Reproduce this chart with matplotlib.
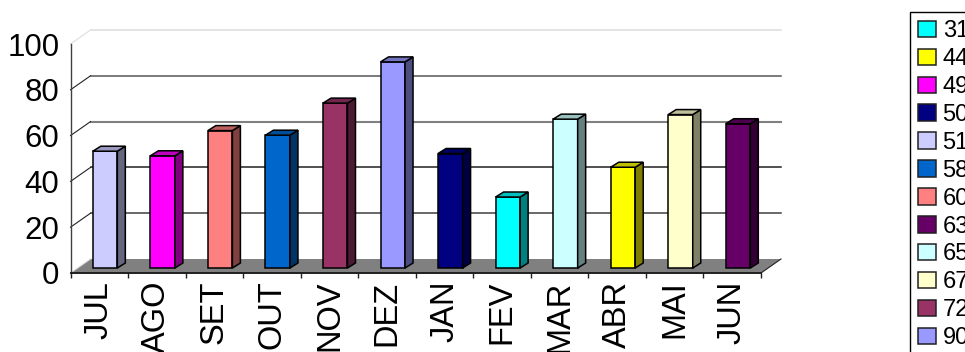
import matplotlib
matplotlib.use('Agg')
import matplotlib.pyplot as plt
from matplotlib.patches import Patch, Polygon
from matplotlib.transforms import Affine2D
from matplotlib.colors import to_rgb

plt.rcParams['font.family'] = ['Liberation Sans', 'DejaVu Sans']

months = ['JUL', 'AGO', 'SET', 'OUT', 'NOV', 'DEZ', 'JAN', 'FEV', 'MAR', 'ABR', 'MAI', 'JUN']
values = [51, 49, 60, 58, 72, 90, 50, 31, 65, 44, 67, 63]
colors = ['#CCCCFF', '#FF00FF', '#FF8080', '#0066CC', '#993366', '#9999FF',
          '#000080', '#00FFFF', '#CCFFFF', '#FFFF00', '#FFFFCC', '#660066']
y_ticks = [0, 20, 40, 60, 80, 100]
grid_colors = {20: '#404040', 40: '#202020', 60: '#808080', 80: '#555555', 100: '#dddddd'}


def shade(color, k):
    return tuple(c * k for c in to_rgb(color))


W, H = 965, 352
fig = plt.figure(figsize=(W / 100, H / 100), dpi=100)
ax = fig.add_axes([70.5 / W, (H - 273) / H, (761 - 70.5) / W, (273 - 44) / H])
ax.set_xlim(0, 12)
ax.set_ylim(0, 100)

# pseudo 3d: everything is the front plane shifted by some pixels
back = ax.transData + Affine2D().translate(20, 14)
front = ax.transData + Affine2D().translate(5.8, 5)
px_x = 12 / (761 - 70.5)
px_y = 100 / (273 - 44)
depth_x = 8 * px_x
depth_y = 5 * px_y
bar_w = 24.5 * px_x

# floor
wall_dx = 20 * px_x
wall_dy = 14 * px_y
ax.add_patch(Polygon([(0, 0), (12, 0), (12 + wall_dx, wall_dy), (wall_dx, wall_dy)],
                     closed=True, fc='#808080', ec='none', clip_on=False, zorder=1))

# back wall lines and the diagonals on the left wall
for v in y_ticks[1:]:
    ax.plot([0, 12], [v, v], transform=back, color=grid_colors[v],
            lw=1.5 if v == 60 else 1.1, clip_on=False, zorder=1)
    ax.plot([0, wall_dx], [v, v + wall_dy], color=grid_colors[v] if v == 100 else '#222222',
            lw=0.8, clip_on=False, zorder=1)
ax.plot([12, 12 + wall_dx], [0, wall_dy], color='#222222', lw=0.8, clip_on=False, zorder=1)
ax.plot([0, wall_dx], [0, wall_dy], color='#dddddd', lw=0.8, clip_on=False, zorder=1)

# bars
for i, (val, col) in enumerate(zip(values, colors)):
    left = i + 0.5 - bar_w / 2
    right = left + bar_w
    ax.bar(i + 0.5, val, width=bar_w, color=col, edgecolor='black', lw=1.1,
           transform=front, clip_on=False, zorder=3)
    ax.add_patch(Polygon([(right, 0), (right + depth_x, depth_y),
                          (right + depth_x, val + depth_y), (right, val)],
                         closed=True, fc=shade(col, 0.5), ec='black', lw=1.1,
                         transform=front, clip_on=False, zorder=3))
    ax.add_patch(Polygon([(left, val), (right, val),
                          (right + depth_x, val + depth_y), (left + depth_x, val + depth_y)],
                         closed=True, fc=shade(col, 0.75), ec='black', lw=1.1,
                         transform=front, clip_on=False, zorder=3))

for s in ['top', 'right']:
    ax.spines[s].set_visible(False)
ax.spines['left'].set_color('#404040')
ax.spines['left'].set_linewidth(1.0)
ax.spines['bottom'].set_color('#202020')
ax.spines['bottom'].set_linewidth(1.4)

ax.set_yticks(y_ticks)
ax.tick_params(axis='y', length=0, pad=8, labelsize=22.5)
for lab in ax.get_yticklabels():
    lab.set_va('center_baseline')
ax.set_xticks(range(13))
ax.set_xticklabels([''] * 13)
ax.tick_params(axis='x', length=3.5, width=1, color='#202020')

# month names sit between the ticks and run off the bottom edge
for i, m in enumerate(months):
    ax.annotate(m, (i + 0.5, 0), xytext=(0, -5.5), textcoords='offset points',
                rotation=90, ha='center', va='top', fontsize=23.5, annotation_clip=False)

# legend sorted by value, wider than the space left on the right
order = sorted(range(len(values)), key=lambda k: values[k])
handles = [Patch(fc=colors[k], ec='#202020', lw=1.1, label=str(values[k])) for k in order]
leg = fig.legend(handles=handles, loc='upper left', bbox_to_anchor=(910 / W, (H - 12) / H),
                 borderaxespad=0, fontsize=17, frameon=True, fancybox=False,
                 edgecolor='black', framealpha=1, handlelength=0.74, handleheight=0.7,
                 handletextpad=0.29, labelspacing=0.25, borderpad=0.35)
leg.get_frame().set_linewidth(1)

fig.savefig('out.png', dpi=100)
